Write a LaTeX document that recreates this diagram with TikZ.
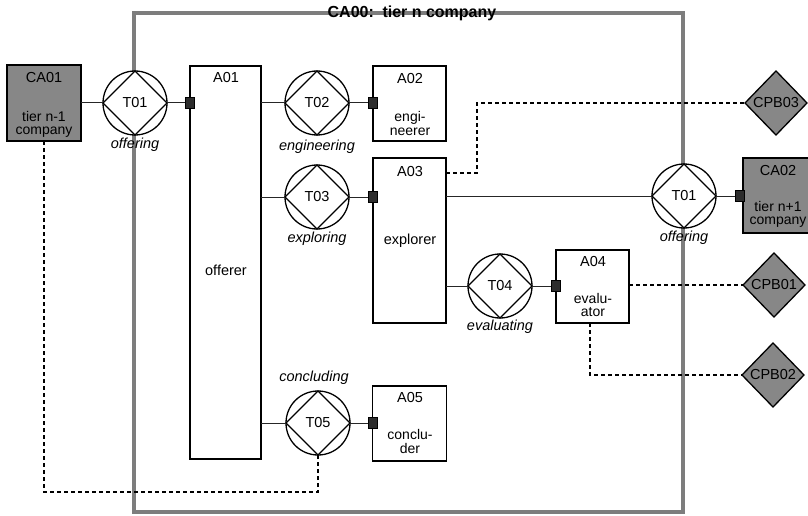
\documentclass[tikz,border=0pt]{standalone}
\usepackage{fontspec}
\setmainfont{Liberation Sans}
\usetikzlibrary{shapes.geometric}
\definecolor{fillgray}{RGB}{135,135,135}
\definecolor{framegray}{RGB}{125,125,125}
\definecolor{sqgray}{RGB}{45,45,45}
\begin{document}
\begin{tikzpicture}[x=1pt,y=-1pt,
  txt/.style={inner sep=0pt, font=\fontsize{14.5}{14.5}\selectfont},
  two/.style={inner sep=0pt, align=center, font=\fontsize{14}{13.5}\selectfont},
  itl/.style={inner sep=0pt, font=\fontsize{14.5}{14.5}\selectfont\itshape},
  abox/.style={draw, fill=white, line width=1.4pt, inner sep=0pt, outer sep=0pt},
  cabox/.style={draw, fill=fillgray, line width=1.4pt, inner sep=0pt, outer sep=0pt},
  trans/.style={circle, draw, fill=white, line width=1.3pt, minimum size=64pt, inner sep=0pt, outer sep=0pt, font=\fontsize{14.5}{14.5}\selectfont},
  dia/.style={line width=1.3pt},
  cpb/.style={diamond, draw, fill=fillgray, line width=1.3pt, minimum width=62pt, minimum height=64pt, inner sep=0pt, outer sep=0pt},
  sq/.style={draw=black, fill=sqgray, line width=0.6pt, minimum width=9pt, minimum height=11pt, inner sep=0pt, outer sep=0pt},
  conn/.style={line width=1pt, draw=black!85},
  dashl/.style={line width=1.5pt, dash pattern=on 4pt off 3pt},
  frame/.style={draw=framegray, line width=4pt}
]
\useasboundingbox (0,0) rectangle (808,516);
% outer frame CA00
\draw[frame] (134,13) rectangle (683,512);
\node[inner sep=0pt, font=\fontsize{16}{16}\selectfont\bfseries] (title) at (412,13) {CA00:\, tier n company};

% boxes
\node[cabox, minimum width=74pt, minimum height=76pt] (CA01) at (44,103) {};
\node[abox, minimum width=71pt, minimum height=393pt] (A01) at (225.5,262.5) {};
\node[abox, minimum width=73pt, minimum height=75pt] (A02) at (409.5,103.5) {};
\node[abox, minimum width=73pt, minimum height=165pt] (A03) at (409.5,240.5) {};
\node[abox, minimum width=73pt, minimum height=73pt] (A04) at (592.5,286.5) {};
\node[abox, minimum width=74pt, minimum height=75pt] (A05) at (409.5,423.5) {};
\node[cabox, minimum width=74pt, minimum height=75pt] (CA02) at (780,195.5) {};

% transactions
\node[trans] (T01) at (135,103) {T01};
\node[trans] (T02) at (317,103) {T02};
\node[trans] (T03) at (317,197) {T03};
\node[trans] (T04) at (500,286) {T04};
\node[trans] (T05) at (318,423) {T05};
\node[trans] (T01r) at (684,196) {T01};
\foreach \t in {T01,T02,T03,T04,T05,T01r}{
  \draw[dia] (\t.north) -- (\t.east) -- (\t.south) -- (\t.west) -- cycle;
}

% connectors
\draw[conn] (CA01) -- (T01);
\draw[conn] (T01) -- (A01.west |- T01);
\draw[conn] (T02 -| A01.east) -- (T02);
\draw[conn] (T02) -- (T02 -| A02.west);
\draw[conn] (T03 -| A01.east) -- (T03);
\draw[conn] (T03) -- (T03 -| A03.west);
\draw[conn] (T01r -| A03.east) -- (T01r);
\draw[conn] (T01r) -- (T01r -| CA02.west);
\draw[conn] (T04 -| A03.east) -- (T04);
\draw[conn] (T04) -- (T04 -| A04.west);
\draw[conn] (T05 -| A01.east) -- (T05);
\draw[conn] (T05) -- (T05 -| A05.west);

% small squares
\node[sq] (S1) at (A01.west |- T01) {};
\node[sq] (S2) at (A02.west |- T02) {};
\node[sq] (S3) at (A03.west |- T03) {};
\node[sq] (S4) at (A04.west |- T04) {};
\node[sq] (S5) at (A05.west |- T05) {};
\node[sq] (S6) at ([xshift=-3pt]CA02.west |- T01r) {};

% CPB diamonds
\node[cpb] (P3) at (776,103) {};
\node[cpb] (P1) at (774,285) {};
\node[cpb] (P2) at (773,375) {};
\node[txt] (P3t) at (P3) {CPB03};
\node[txt] (P1t) at (P1) {CPB01};
\node[txt] (P2t) at (P2) {CPB02};

% dashed connectors
\coordinate (d1) at (44,492);
\draw[dashl] (CA01.south) -- (d1) -| (T05.south);
\coordinate (d2) at (477,173);
\draw[dashl] (A03.east |- d2) -- (d2) |- (P3.west);
\draw[dashl] (P1 -| A04.east) -- (P1.west);
\coordinate (d3) at (590,375);
\draw[dashl] (d3 |- A04.south) -- (d3) -- (P2.west);

% box texts
\node[txt] (CA01a) at (44,78) {CA01};
\node[two] (CA01b) at (44,124.5) {tier n-1\\company};
\node[txt] (A01a) at (226,78) {A01};
\node[txt] (A01b) at (226,270) {offerer};
\node[txt] (A02a) at (410,79) {A02};
\node[two] (A02b) at (410,123.5) {engi-\\neerer};
\node[txt] (A03a) at (410,172) {A03};
\node[txt] (A03b) at (410,241) {explorer};
\node[txt] (A04a) at (593,262) {A04};
\node[two] (A04b) at (593,305) {evalu-\\ator};
\node[txt] (A05a) at (410,398) {A05};
\node[two] (A05b) at (410,441.5) {conclu-\\der};
\node[txt] (CA02a) at (778,171) {CA02};
\node[two] (CA02b) at (778,214.5) {tier n+1\\company};

% transaction names
\node[itl] (L1) at (135,145) {offering};
\node[itl] (L2) at (317,147) {engineering};
\node[itl] (L3) at (317,239) {exploring};
\node[itl] (L4) at (500,327) {evaluating};
\node[itl] (L5) at (314,378) {concluding};
\node[itl] (L6) at (684,238) {offering};
\end{tikzpicture}
\end{document}
